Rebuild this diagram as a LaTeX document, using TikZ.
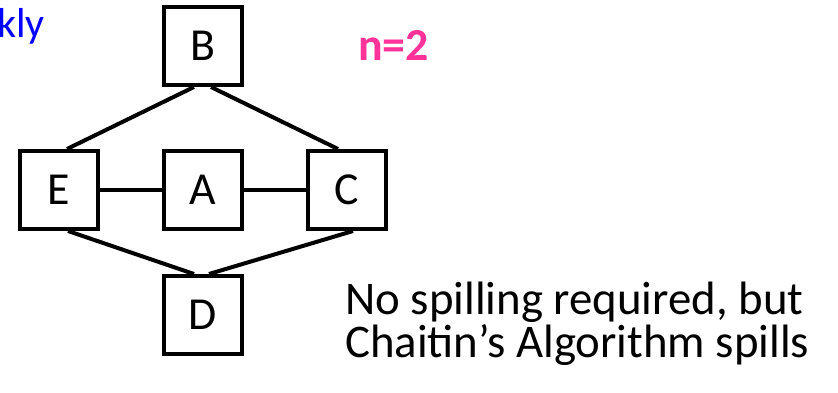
\documentclass[tikz,border=0pt]{standalone}
\usepackage{fontspec}
\setmainfont{Carlito}
\usepackage{tikz}
\usetikzlibrary{positioning}
\usepackage{xcolor}
\definecolor{hotpink}{RGB}{255,51,153}
\tikzset{
  regnode/.style={draw,line width=4bp,minimum size=78bp,inner sep=0pt,font=\fontsize{46}{50}\selectfont},
  every edge/.style={draw,line width=4bp},
}

\begin{document}
\begin{tikzpicture}[x=1bp,y=1bp,node distance=144bp]
\useasboundingbox (0,0) rectangle (838,392);

\node[regnode] (a) at (203,202) {A};
\node[regnode,left of=a] (e) {E};
\node[regnode,right of=a] (c) {C};
\node[regnode,above of=a] (b) {B};
\node[regnode,below of=a,node distance=125bp] (d) {D};

\path
([xshift=-9bp]b.south) edge ([xshift=8bp]e.north)
([xshift=8bp]b.south) edge ([xshift=-9bp]c.north)
(e) edge (a)
(a) edge (c)
([xshift=9bp]e.south) edge ([xshift=-9bp]d.north)
([xshift=6bp]c.south) edge ([xshift=6bp]d.north);

\node[anchor=base east,text=blue,inner sep=0pt,font=\fontsize{42}{46}\selectfont] (note) at (45,355) {kly};
\node[anchor=base west,text=hotpink,inner sep=0pt,font=\fontsize{46}{50}\bfseries] (regs) at (358,332) {n=2};
\node[anchor=base west,align=left,inner sep=0pt,font=\fontsize{47}{35}\selectfont] (spill) at (345,35)
  {No spilling required, but\\Chaitin’s Algorithm spills};

\end{tikzpicture}
\end{document}
